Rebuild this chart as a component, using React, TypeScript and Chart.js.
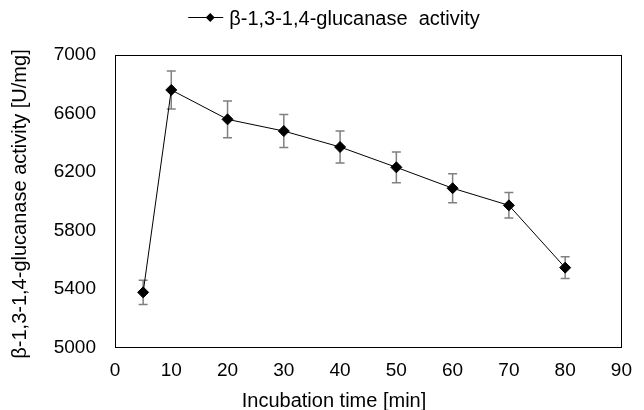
import React, { useEffect, useRef } from 'react';
import { Chart, registerables } from 'chart.js';

Chart.register(...registerables);

const times = [5, 10, 20, 30, 40, 50, 60, 70, 80];
const activity = [5377, 6761, 6560, 6480, 6371, 6232, 6089, 5972, 5546];
const errors = [83, 130, 125, 113, 109, 105, 99, 87, 75];
const xTicks = [0, 10, 20, 30, 40, 50, 60, 70, 80, 90];
const yTicks = [5000, 5400, 5800, 6200, 6600, 7000];
const seriesLabel = 'β-1,3-1,4-glucanase  activity';
const xTitle = 'Incubation time [min]';
const yTitle = 'β-1,3-1,4-glucanase activity [U/mg]';

const FONT = '"Liberation Sans", Arial, sans-serif';
const TEXT = '#000000';
const ERR_COLOR = '#808080';

const decorPlugin = {
  id: 'decor',
  beforeDatasetsDraw(chart: any) {
    const { ctx, chartArea, scales } = chart;
    const xs = scales.x;
    const ys = scales.y;
    ctx.save();
    ctx.strokeStyle = '#000';
    ctx.lineWidth = 1;
    const l = Math.floor(chartArea.left) + 0.5;
    const r = Math.floor(chartArea.right) + 0.5;
    const t = Math.floor(chartArea.top) + 0.5;
    const b = Math.floor(chartArea.bottom) + 0.5;
    ctx.strokeRect(l, t, r - l, b - t);
    ctx.strokeStyle = ERR_COLOR;
    ctx.lineWidth = 1.5;
    for (let i = 0; i < times.length; i++) {
      const x = xs.getPixelForValue(times[i]);
      const yt = ys.getPixelForValue(activity[i] + errors[i]);
      const yb = ys.getPixelForValue(activity[i] - errors[i]);
      ctx.beginPath();
      ctx.moveTo(x, yt);
      ctx.lineTo(x, yb);
      ctx.moveTo(x - 4.5, yt);
      ctx.lineTo(x + 4.5, yt);
      ctx.moveTo(x - 4.5, yb);
      ctx.lineTo(x + 4.5, yb);
      ctx.stroke();
    }
    ctx.restore();
  },
  afterDraw(chart: any) {
    const { ctx } = chart;
    ctx.save();
    ctx.fillStyle = TEXT;
    ctx.font = `20px ${FONT}`;
    ctx.textAlign = 'center';
    ctx.textBaseline = 'alphabetic';
    ctx.fillText(xTitle, 334, 406.5);
    ctx.save();
    ctx.translate(26, 204);
    ctx.rotate(-Math.PI / 2);
    ctx.fillText(yTitle, 0, 0);
    ctx.restore();
    ctx.font = `20px ${FONT}`;
    const tw = ctx.measureText(seriesLabel).width;
    const lineLen = 35;
    const gap = 6;
    const total = lineLen + gap + tw;
    const sx = 334 - total / 2;
    const ly = 17.5;
    ctx.strokeStyle = '#000';
    ctx.lineWidth = 1;
    ctx.beginPath();
    ctx.moveTo(sx, ly);
    ctx.lineTo(sx + lineLen, ly);
    ctx.stroke();
    const dx = sx + 22;
    const d = 4.5;
    ctx.fillStyle = '#000';
    ctx.beginPath();
    ctx.moveTo(dx, ly - d);
    ctx.lineTo(dx + d, ly);
    ctx.lineTo(dx, ly + d);
    ctx.lineTo(dx - d, ly);
    ctx.closePath();
    ctx.fill();
    ctx.fillStyle = TEXT;
    ctx.textAlign = 'left';
    ctx.fillText(seriesLabel, sx + lineLen + gap, 24.5);
    ctx.restore();
  },
};

export default function App() {
  const ref = useRef<HTMLCanvasElement | null>(null);
  useEffect(() => {
    if (!ref.current) return;
    const chart = new Chart(ref.current, {
      type: 'line',
      data: {
        datasets: [
          {
            label: seriesLabel,
            data: times.map((t, i) => ({ x: t, y: activity[i] })),
            borderColor: '#000',
            borderWidth: 1,
            pointStyle: 'rectRot',
            pointRadius: 5.5,
            pointBackgroundColor: '#000',
            pointBorderColor: '#000',
            pointBorderWidth: 1,
            tension: 0,
            fill: false,
          },
        ],
      },
      options: {
        responsive: false,
        animation: false,
        devicePixelRatio: 1,
        layout: { padding: { top: 55, right: 21, left: 0, bottom: 0 } },
        plugins: {
          legend: { display: false },
          tooltip: { enabled: false },
        },
        scales: {
          x: {
            type: 'linear',
            min: 0,
            max: 90,
            afterBuildTicks: (s: any) => {
              s.ticks = xTicks.map((v) => ({ value: v }));
            },
            afterFit: (s: any) => {
              s.height = 62.5;
            },
            grid: { display: false, drawTicks: false },
            border: { display: false },
            ticks: {
              padding: 12,
              color: TEXT,
              font: { family: FONT, size: 19 },
              maxRotation: 0,
              callback: (v: any) => String(v),
            },
          },
          y: {
            type: 'linear',
            min: 5000,
            max: 7000,
            afterBuildTicks: (s: any) => {
              s.ticks = yTicks.map((v) => ({ value: v }));
            },
            afterFit: (s: any) => {
              s.width = 115;
            },
            grid: { display: false, drawTicks: false },
            border: { display: false },
            ticks: {
              padding: 19,
              color: TEXT,
              font: { family: FONT, size: 19 },
              callback: (v: any) => String(v),
            },
          },
        },
      },
      plugins: [decorPlugin],
    } as any);
    return () => chart.destroy();
  }, []);
  return (
    <div style={{ position: 'fixed', left: 0, top: 0, width: 644, height: 410, background: '#fff' }}>
      <canvas ref={ref} width={644} height={410} style={{ width: 644, height: 410, display: 'block' }} />
    </div>
  );
}
